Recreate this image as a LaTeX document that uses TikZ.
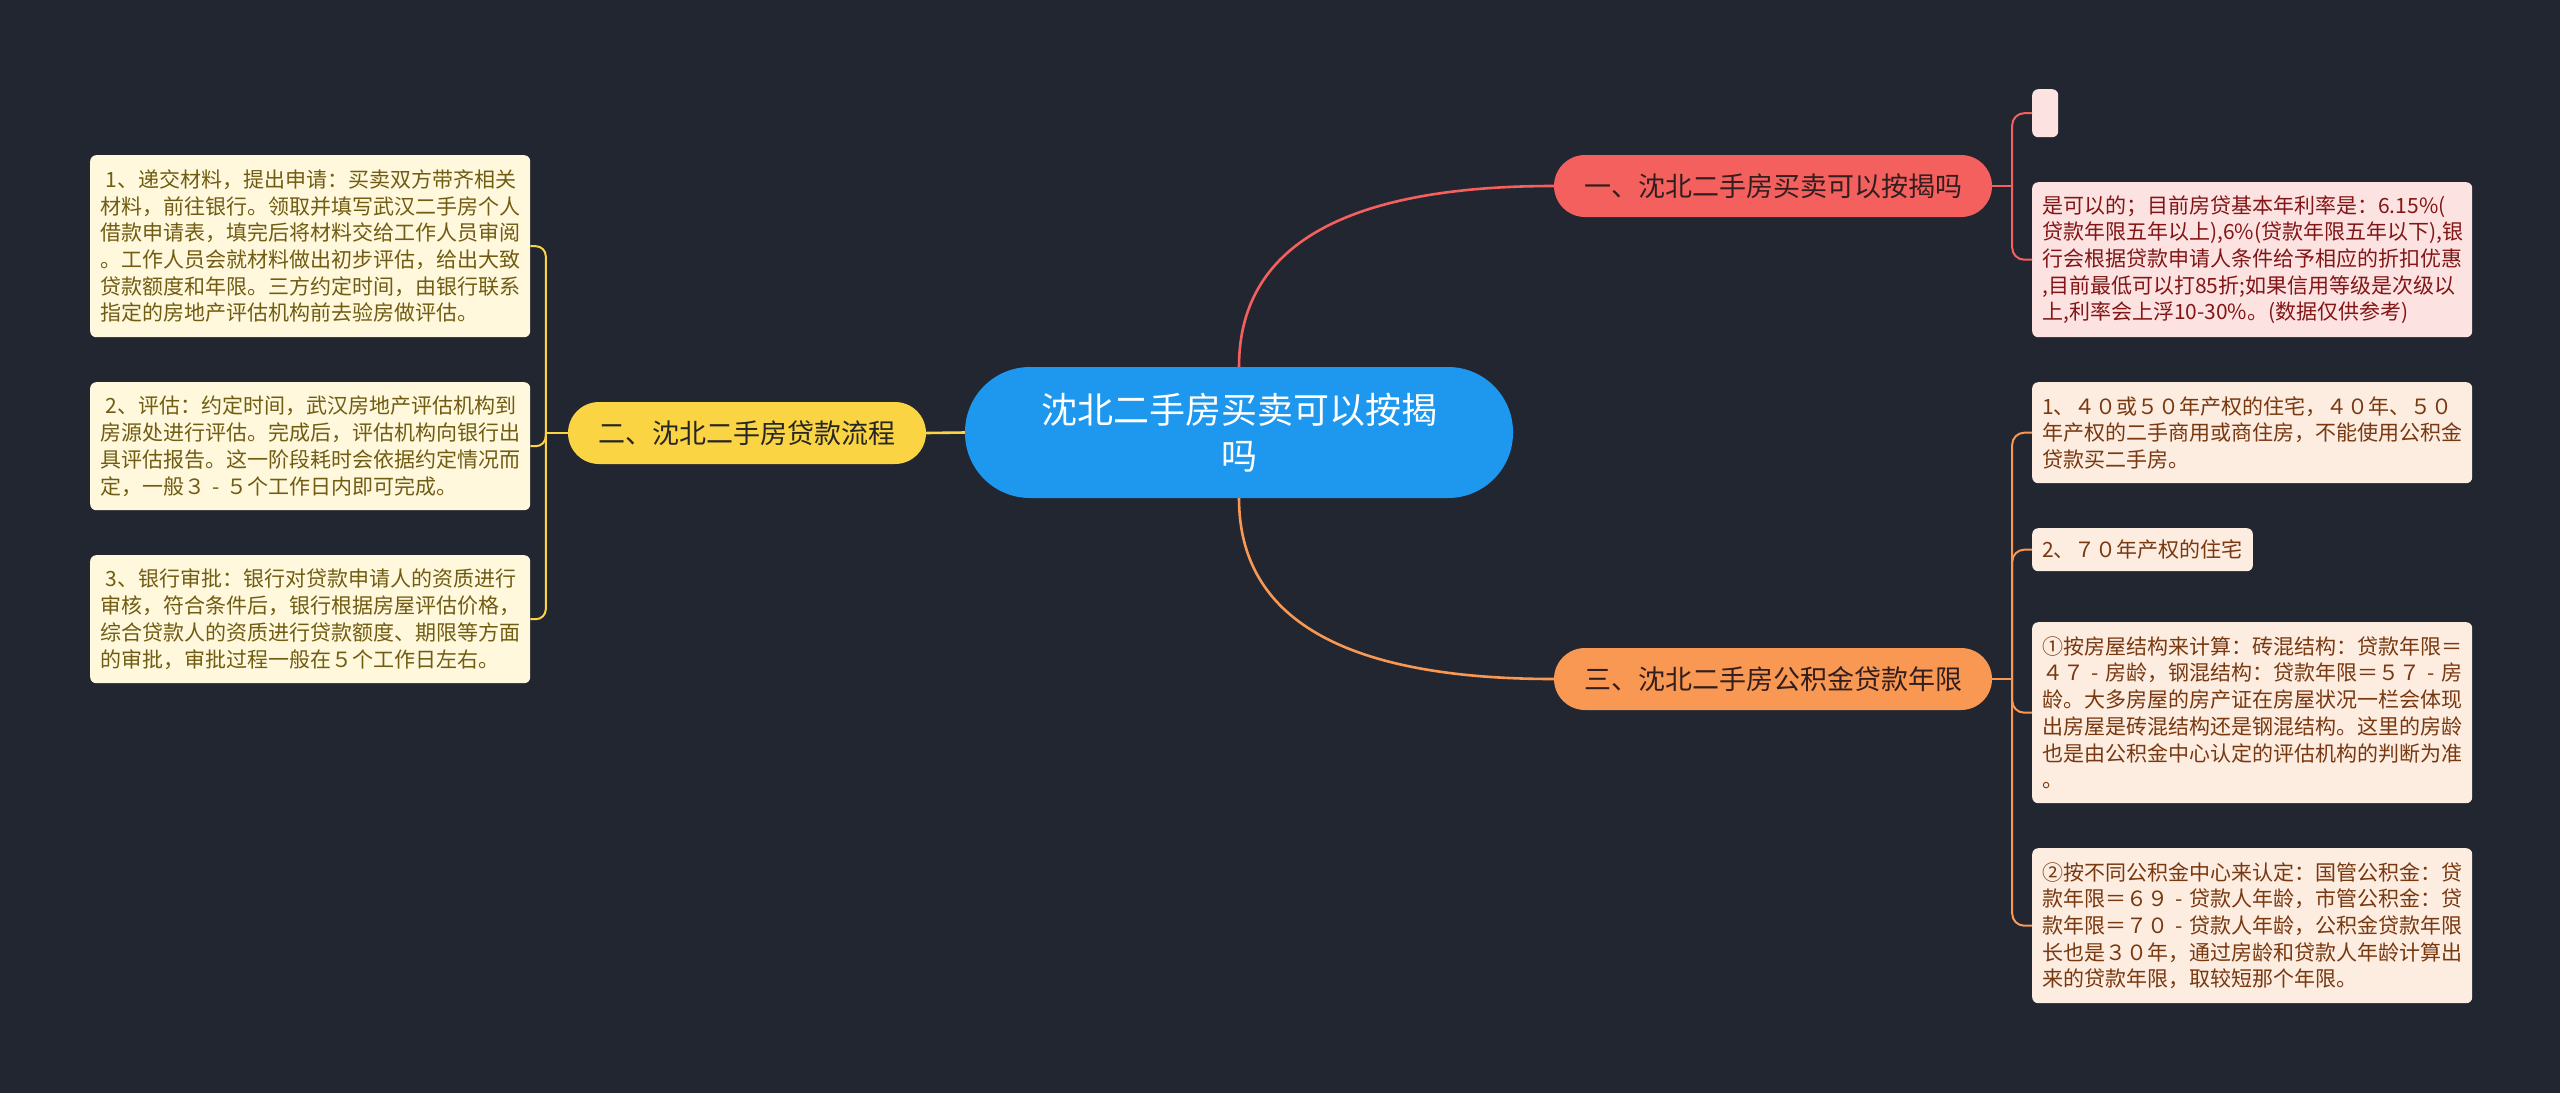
\documentclass[tikz,border=0pt]{standalone}
\usepackage{fontspec}
\usetikzlibrary{calc}
\setmainfont{Noto Sans CJK SC}
\definecolor{bg}{RGB}{34,38,49}
\definecolor{cblue}{RGB}{30,152,238}
\definecolor{cred}{RGB}{244,96,94}
\definecolor{cyel}{RGB}{250,212,66}
\definecolor{corg}{RGB}{249,152,82}
\definecolor{lfill}{RGB}{255,248,220}
\definecolor{ltext}{RGB}{112,92,18}
\definecolor{rfill}{RGB}{253,226,226}
\definecolor{rtext}{RGB}{130,22,22}
\definecolor{ofill}{RGB}{253,236,224}
\definecolor{otext}{RGB}{120,56,16}
\definecolor{btext}{RGB}{50,30,30}
\tikzset{
  branch/.style={minimum width=438pt, minimum height=62pt, rounded corners=31pt, inner sep=0pt,
    font=\fontsize{27pt}{32pt}\selectfont},
  leafbox/.style={rounded corners=6pt, text width=420pt, inner xsep=10pt, inner ysep=0pt, align=left,
    font=\fontsize{21pt}{26.7pt}\selectfont},
  smallbox/.style={rounded corners=6pt, inner xsep=10pt, inner ysep=0pt, align=left,
    font=\fontsize{21pt}{26.7pt}\selectfont},
  mainline/.style={line width=2.6pt},
  childline/.style={line width=2pt, rounded corners=12pt},
}
\begin{document}
\begin{tikzpicture}[x=1pt,y=-1pt]
\fill[bg] (0,0) rectangle (2560,1093);
\useasboundingbox (0,0) rectangle (2560,1093);

% central
\node[fill=cblue, rounded corners=65pt, minimum width=548pt, minimum height=131pt, inner sep=0pt,
  align=center, text=white, font=\fontsize{36pt}{46pt}\selectfont] (c) at (1239,432.5)
  {沈北二手房买卖可以按揭\\吗};

% branches
\node[branch, fill=cred, text=btext] (b1) at (1773,186) {一、沈北二手房买卖可以按揭吗};
\node[branch, fill=cyel, text=black!85, minimum width=358pt] (b2) at (747,433) {二、沈北二手房贷款流程};
\node[branch, fill=corg, text=btext] (b3) at (1773,679) {三、沈北二手房公积金贷款年限};

% left leaves
\node[leafbox, fill=lfill, text=ltext, anchor=north west, minimum height=182pt] (l1) at (90,155)
{\hspace*{0.25em}1、递交材料，提出申请：买卖双方带齐相关\\
材料，前往银行。领取并填写武汉二手房个人\\
借款申请表，填完后将材料交给工作人员审阅\\
。工作人员会就材料做出初步评估，给出大致\\
贷款额度和年限。三方约定时间，由银行联系\\
指定的房地产评估机构前去验房做评估。};
\node[leafbox, fill=lfill, text=ltext, anchor=north west, minimum height=128pt] (l2) at (90,382)
{\hspace*{0.25em}2、评估：约定时间，武汉房地产评估机构到\\
房源处进行评估。完成后，评估机构向银行出\\
具评估报告。这一阶段耗时会依据约定情况而\\
\mbox{定，一般３ - ５个工作日内即可完成。}};
\node[leafbox, fill=lfill, text=ltext, anchor=north west, minimum height=128pt] (l3) at (90,555)
{\hspace*{0.25em}3、银行审批：银行对贷款申请人的资质进行\\
审核，符合条件后，银行根据房屋评估价格，\\
综合贷款人的资质进行贷款额度、期限等方面\\
的审批，审批过程一般在５个工作日左右。};

% right red leaves
\node[fill=rfill, rounded corners=6pt, minimum width=26pt, minimum height=48pt, inner sep=0pt,
  anchor=north west] (r0) at (2032,89) {};
\node[leafbox, fill=rfill, text=rtext, anchor=north west, minimum height=155pt] (r1) at (2032,182)
{是可以的；目前房贷基本年利率是：6.15\%(\\
贷款年限五年以上),6\%(贷款年限五年以下),银\\
行会根据贷款申请人条件给予相应的折扣优惠\\
,目前最低可以打85折;如果信用等级是次级以\\
\mbox{上,利率会上浮10-30\%。(数据仅供参考)}};

% right orange leaves
\node[leafbox, fill=ofill, text=otext, anchor=north west, minimum height=101pt] (o1) at (2032,382)
{1、４０或５０年产权的住宅，４０年、５０\\
年产权的二手商用或商住房，不能使用公积金\\
贷款买二手房。};
\node[smallbox, fill=ofill, text=otext, anchor=north west, minimum height=43pt] (o2) at (2032,528)
{2、７０年产权的住宅};
\node[leafbox, fill=ofill, text=otext, anchor=north west, minimum height=181pt] (o3) at (2032,622)
{①按房屋结构来计算：砖混结构：贷款年限＝\\
\mbox{４７ - 房龄，钢混结构：贷款年限＝５７ - 房}\\
龄。大多房屋的房产证在房屋状况一栏会体现\\
出房屋是砖混结构还是钢混结构。这里的房龄\\
也是由公积金中心认定的评估机构的判断为准\\
。};
\node[leafbox, fill=ofill, text=otext, anchor=north west, minimum height=155pt] (o4) at (2032,848)
{②按不同公积金中心来认定：国管公积金：贷\\
\mbox{款年限＝６９ - 贷款人年龄，市管公积金：贷}\\
\mbox{款年限＝７０ - 贷款人年龄，公积金贷款年限}\\
长也是３０年，通过房龄和贷款人年龄计算出\\
来的贷款年限，取较短那个年限。};

% main connectors (quadratic-like curves)
\draw[mainline, draw=cred] (c.north)
  .. controls ($(c.north)!0.667!(c.north |- b1.west)$) and ($(b1.west)!0.667!(c.north |- b1.west)$)
  .. (b1.west);
\draw[mainline, draw=corg] (c.south)
  .. controls ($(c.south)!0.667!(c.south |- b3.west)$) and ($(b3.west)!0.667!(c.south |- b3.west)$)
  .. (b3.west);
\draw[mainline, draw=cyel] (c.west) -- (b2.east);

% red children
\draw[line width=2pt, draw=cred] (b1.east) -- ++(20,0) coordinate (j1);
\draw[childline, draw=cred] (j1) |- (r0.west);
\draw[childline, draw=cred] (j1) |- (r1.west);

% yellow children
\draw[line width=2pt, draw=cyel] (b2.west) -- ++(-22,0) coordinate (j2);
\draw[childline, draw=cyel, rounded corners=10pt] (j2) |- (l1.east);
\draw[childline, draw=cyel, rounded corners=10pt] (j2) |- (l2.east);
\draw[childline, draw=cyel, rounded corners=10pt] (j2) |- (l3.east);

% orange children
\draw[line width=2pt, draw=corg] (b3.east) -- ++(20,0) coordinate (j3);
\draw[childline, draw=corg] (j3) |- (o1.west);
\draw[childline, draw=corg] (j3) |- (o2.west);
\draw[childline, draw=corg] (j3) |- (o3.west);
\draw[childline, draw=corg] (j3) |- (o4.west);
\end{tikzpicture}
\end{document}
